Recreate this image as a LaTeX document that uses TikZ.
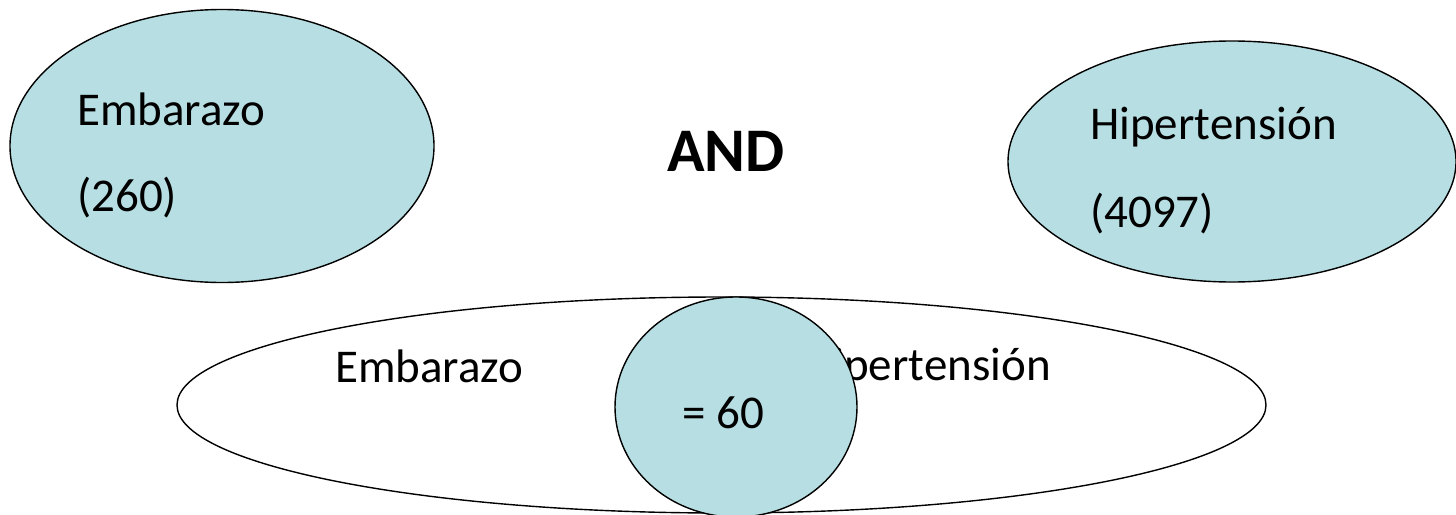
\documentclass[tikz,border=0pt]{standalone}
\usepackage{fontspec}
\setmainfont{Carlito}
\usetikzlibrary{shapes.geometric}
\definecolor{aqua}{RGB}{183,223,227}
\tikzset{
  setbox/.style={ellipse, draw=black, line width=1.4pt, inner sep=0pt},
  blue/.style={setbox, fill=aqua},
  white/.style={setbox, fill=white},
  lbl/.style={anchor=base west, inner sep=0pt, font=\fontsize{47}{56}\selectfont},
  bigl/.style={anchor=base west, inner sep=0pt, font=\fontsize{62}{70}\selectfont\bfseries}
}
\begin{document}
\begin{tikzpicture}[x=1pt,y=-1pt]
\useasboundingbox (0,0) rectangle (1456,514);
% top left set
\node[blue, minimum width=424pt, minimum height=273pt] (emb) at (222,146) {};
\node[lbl] (embt) at (77,125) {Embarazo};
\node[lbl] (embn) at (77,211) {(260)};
% top right set
\node[blue, minimum width=448pt, minimum height=241pt] (hip) at (1232,161.5) {};
\node[lbl] (hipt) at (1090,139) {Hipertensión};
\node[lbl] (hipn) at (1090,227) {(4097)};
% operator
\node[bigl] (and) at (667,171) {AND};
% bottom combined
\node[white, minimum width=1089pt, minimum height=216pt] (big) at (721.5,405) {};
\node[lbl] (bemb) at (335,382) {Embarazo};
\node[lbl] (bhip) at (804,380) {Hipertensión};
\node[blue, minimum width=242pt, minimum height=220pt] (inter) at (736,407) {};
\node[lbl] (res) at (682,428) {= 60};
\end{tikzpicture}
\end{document}
